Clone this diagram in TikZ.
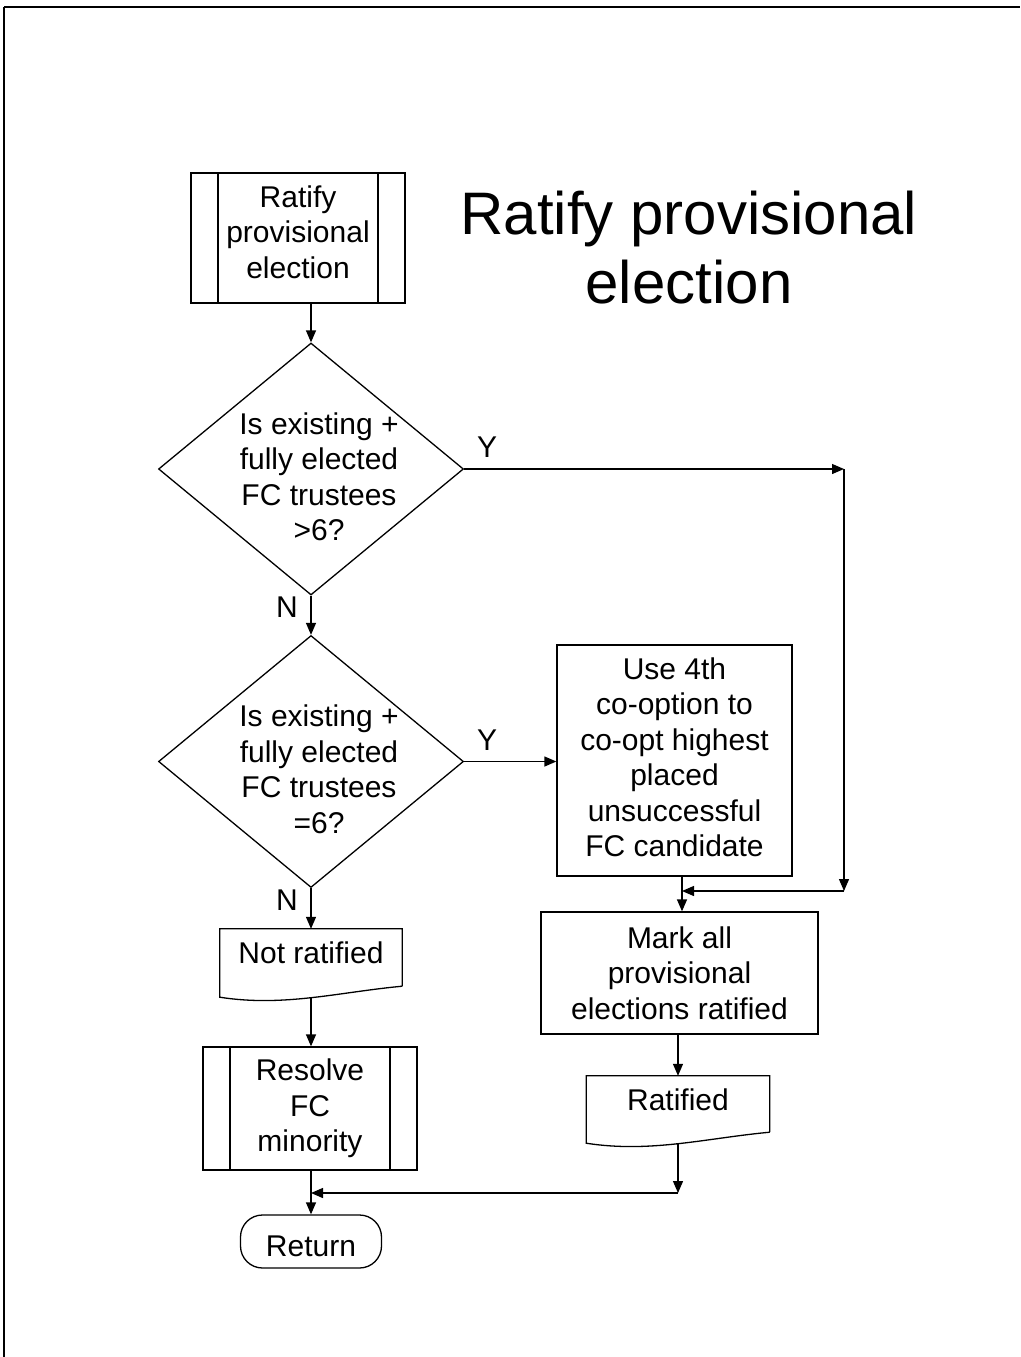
\documentclass[tikz,border=0pt]{standalone}
\usepackage{fontspec}
\setmainfont{Liberation Sans}
\usetikzlibrary{positioning, calc, shapes.geometric, arrows.meta}
\tikzset{
    ptr/.style={
        -{Triangle[length=12pt,width=10pt]}, line width=1.3pt
    },
    edge/.style={
        line width=1.3pt
    },
    boxtext/.style={
        font=\fontsize{30}{35.5}\selectfont, align=center, inner sep=0pt
    },
    procbox/.style={
        draw, line width=1.3pt, rectangle, boxtext
    },
    subproc/.style={
        procbox,
        path picture={
            \draw[line width=1.3pt] ([xshift=27pt]path picture bounding box.north west)
                -- ([xshift=27pt]path picture bounding box.south west);
            \draw[line width=1.3pt] ([xshift=-27pt]path picture bounding box.north east)
                -- ([xshift=-27pt]path picture bounding box.south east);
        }
    },
    decision/.style={
        diamond, draw, line width=1.3pt, inner sep=0pt,
        minimum width=305pt, minimum height=252pt
    },
    docshape/.style={
        rectangle, inner sep=0pt
    },
    termnode/.style={
        draw, line width=1.3pt, rectangle, rounded corners=22pt,
        minimum width=141pt, minimum height=53pt
    },
    branch/.style={
        font=\fontsize{30}{35.5}\selectfont, inner sep=0pt
    }
}

\begin{document}
\begin{tikzpicture}[x=1pt, y=-1pt,
            title/.style={font=\fontsize{60}{69}\selectfont, align=center, inner sep=0pt}
        ]
            \useasboundingbox (0,0) rectangle (1020,1357);

            % --- page frame (top and left edge only) ---
            \draw[line width=2.2pt] (4,7) -- (1020,7);
            \draw[line width=1.4pt] (4,7) -- (4,1357);

            % --- title ---
            \node[title] (heading) at (689,248) {Ratify provisional\\election};

            % --- left column ---
            \node[subproc, minimum width=214pt, minimum height=130pt] (start) at (298,238) {};
            \node[boxtext] (starttext) at (298,232) {Ratify\\provisional\\election};

            \node[decision] (d1) at (311,469) {};
            \node[boxtext] (d1text) at (319,477) {Is existing +\\fully elected\\FC trustees\\>6?};

            \node[decision] (d2) at (311,761.5) {};
            \node[boxtext] (d2text) at (319,769.5) {Is existing +\\fully elected\\FC trustees\\=6?};

            \node[docshape, minimum width=182pt, minimum height=68pt] (notrat) at (311,963) {};
            \node[boxtext] (notrattext) at (311,953) {Not ratified};

            \node[subproc, minimum width=214pt, minimum height=123pt] (resolve) at (310,1108.5)
                {Resolve\\FC\\minority};

            \node[termnode] (ret) at (311,1241.5) {};
            \node[boxtext] (rettext) at (311,1246) {Return};

            % --- right column ---
            \node[procbox, minimum width=235pt, minimum height=231pt] (coopt) at (674.5,760.5) {};
            \node[boxtext] (coopttext) at (674.5,757.5)
                {Use 4th\\co-option to\\co-opt highest\\placed\\unsuccessful\\FC candidate};

            \node[procbox, minimum width=277pt, minimum height=122pt] (mark) at (679.5,973)
                {Mark all\\provisional\\elections ratified};

            \node[docshape, minimum width=183pt, minimum height=67pt] (rat) at (678,1109.5) {};
            \node[boxtext] (rattext) at (678,1100) {Ratified};

            % --- document outlines with wavy bottom ---
            \draw[edge] ([yshift=11pt]notrat.south east) -- (notrat.north east)
                -- (notrat.north west) -- (notrat.south west)
                .. controls +(64,10) and +(-64,6) .. ([yshift=11pt]notrat.south east);
            \draw[edge] ([yshift=11pt]rat.south east) -- (rat.north east)
                -- (rat.north west) -- (rat.south west)
                .. controls +(64,10) and +(-64,6) .. ([yshift=11pt]rat.south east);

            % --- branch labels ---
            \node[branch] (y1) at (487,447) {Y};
            \node[branch] (n1) at (287,607) {N};
            \node[branch] (y2) at (487,740) {Y};
            \node[branch] (n2) at (287,900) {N};

            % --- corner points ---
            \coordinate (yc1) at (844,469);
            \coordinate (yc2) at (844,891);
            \coordinate (join) at (682,891);
            \coordinate (rc) at (678,1193);
            \coordinate (merge) at (311,1193);

            % --- connectors ---
            \draw[ptr] (d1.north |- start.south) -- (d1.north);
            \draw[ptr] (d1.south) -- (d2.north);
            \draw[ptr] (d1.east) -- (yc1);
            \draw[ptr] (yc1) -- (yc2);
            \draw[ptr] (yc2) -- (join);
            \draw[ptr] (d2.east) -- (coopt.west |- d2.east);
            \draw[ptr] (coopt.south -| join) -- (mark.north -| join);
            \draw[ptr] (mark.south -| rat.north) -- (rat.north);
            \draw[ptr] (rat.south) -- (rc);
            \draw[ptr] (rc) -- (merge);
            \draw[ptr] (d2.south) -- (notrat.north);
            \draw[ptr] (notrat.south) -- (resolve.north -| notrat.south);
            \draw[ptr] (ret.north |- resolve.south) -- (ret.north);

        \end{tikzpicture}
\end{document}
